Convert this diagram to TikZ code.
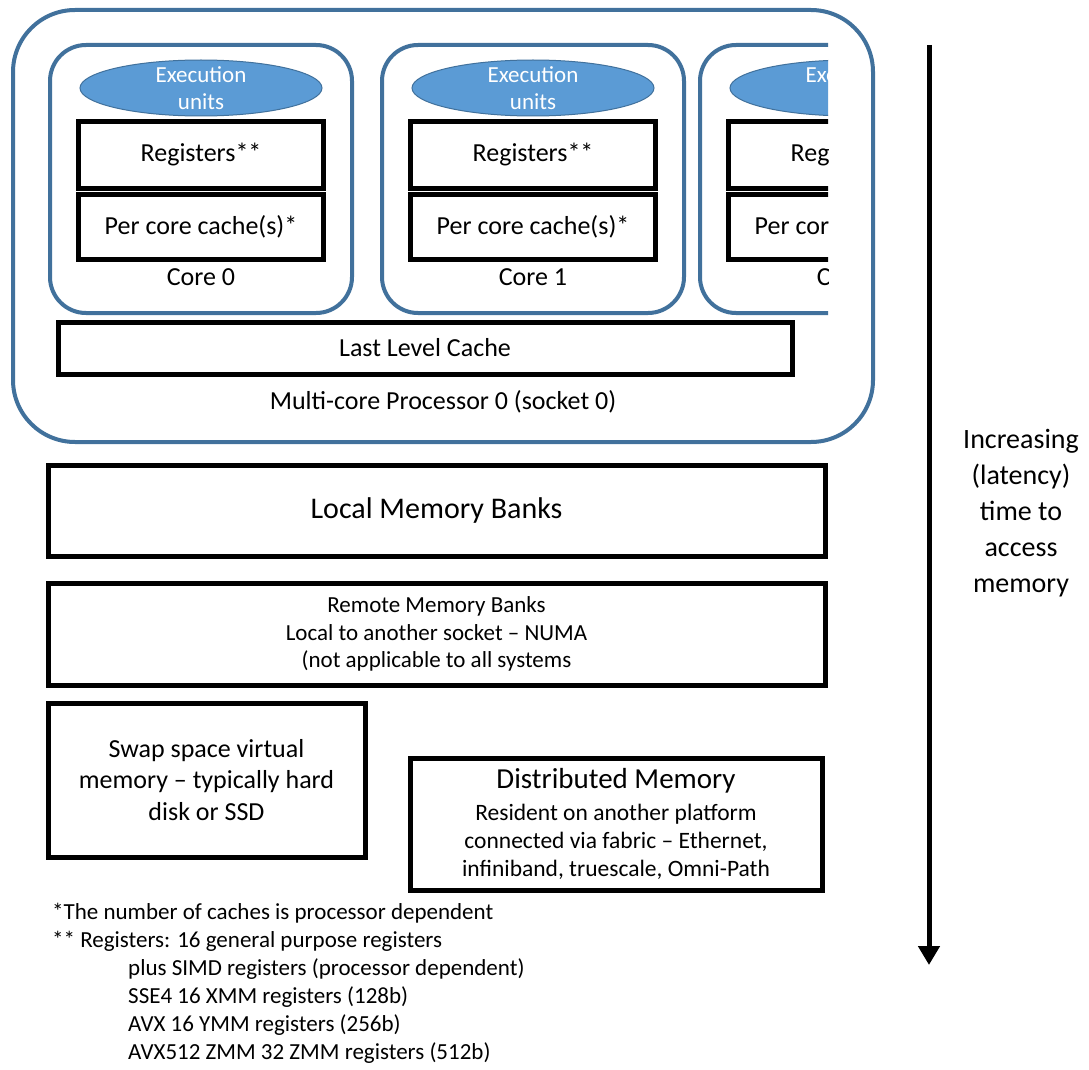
\documentclass[tikz,border=0pt]{standalone}
\usepackage{fontspec}
\setmainfont{Carlito}
\usetikzlibrary{positioning,arrows.meta,shapes.geometric}
\definecolor{socketblue}{HTML}{41719C}
\definecolor{unitblue}{HTML}{5B9BD5}
\newcommand{\txtsize}[2]{\fontsize{#1}{#2}\selectfont}
\tikzset{
  cpu/.style={rectangle, rounded corners=#1, draw=socketblue, line width=4pt, fill=white},
  eu/.style={ellipse, draw=socketblue, fill=unitblue, line width=1pt, text=white,
             minimum width=242pt, minimum height=56pt, inner xsep=0pt, inner ysep=-8pt,
             align=center, font=\txtsize{23}{27}},
  blk/.style={rectangle, draw=black, line width=5pt, fill=white, align=center,
              inner sep=0pt, font=\txtsize{26}{31}},
  lbl/.style={inner sep=0pt, align=center, font=\txtsize{26}{31}},
  lat/.style={-{Triangle[length=19pt,width=21pt]}, line width=5pt},
}

\begin{document}
\begin{tikzpicture}[x=1pt,y=-1pt]
  \useasboundingbox (0,0) rectangle (1089,1070);

  % socket with its cores
  \node[cpu=62pt, minimum width=860pt, minimum height=432pt] (socket) at (443,226) {};
  \begin{scope}
    \clip (0,0) rectangle (828,450);
    \foreach \i/\cx in {0/201,1/533,2/851} {
      \node[cpu=36pt, minimum width=302pt, minimum height=268pt] (core\i) at (\cx,179) {};
      \node[eu] (eu\i) at (\cx,88) {Execution\\units};
      \node[blk, minimum width=245pt, minimum height=66pt] (reg\i) at (\cx,155) {Registers**};
      \node[blk, minimum width=245pt, minimum height=65pt] (pcc\i) at (\cx,227) {Per core cache(s)*};
      \node[lbl] (corelbl\i) at (\cx,277) {Core \i};
    }
  \end{scope}
  \node[blk, minimum width=734pt, minimum height=52pt] (llc) at (425,348) {Last Level Cache};
  \node[lbl] (socketlbl) at (443,402) {Multi-core Processor 0 (socket 0)};

  % memory further away
  \node[blk, minimum width=777pt, minimum height=91pt, font=\txtsize{30}{36}] (localmem) at (436.5,510.5) {Local Memory Banks};
  \node[blk, minimum width=777pt, minimum height=102pt, font=\txtsize{23}{27.5}] (remotemem) at (436.5,634)
    {Remote Memory Banks\\Local to another socket -- NUMA\\(not applicable to all systems};
  \node[blk, minimum width=317pt, minimum height=154pt, font=\txtsize{26}{31.5}] (swap) at (206.5,780)
    {Swap space virtual\\memory -- typically hard\\disk or SSD};
  \node[blk, minimum width=412pt, minimum height=132pt, font=\txtsize{23.5}{28}] (distmem) at (616,824)
    {{\txtsize{29}{28}Distributed Memory}\\[4pt]Resident on another platform\\connected via fabric -- Ethernet,\\infiniband, truescale, Omni-Path};

  % footnotes
  \node[anchor=north west, inner sep=0pt, align=left, font=\txtsize{23}{28}] (notes) at (52,903)
    {*The number of caches is processor dependent\\
     ** Registers: 16 general purpose registers\\
     \hspace*{76pt}plus SIMD registers (processor dependent)\\
     \hspace*{76pt}SSE4 16 XMM registers (128b)\\
     \hspace*{76pt}AVX 16 YMM registers (256b)\\
     \hspace*{76pt}AVX512 ZMM 32 ZMM registers (512b)};

  % latency arrow
  \coordinate (latTop) at (929,45);
  \coordinate (latBot) at (929,965);
  \draw[lat] (latTop) -- (latBot);
  \node[lbl, font=\txtsize{28}{36}] (latlbl) at (1021,513) {Increasing\\(latency)\\time to\\access\\memory};
\end{tikzpicture}
\end{document}
